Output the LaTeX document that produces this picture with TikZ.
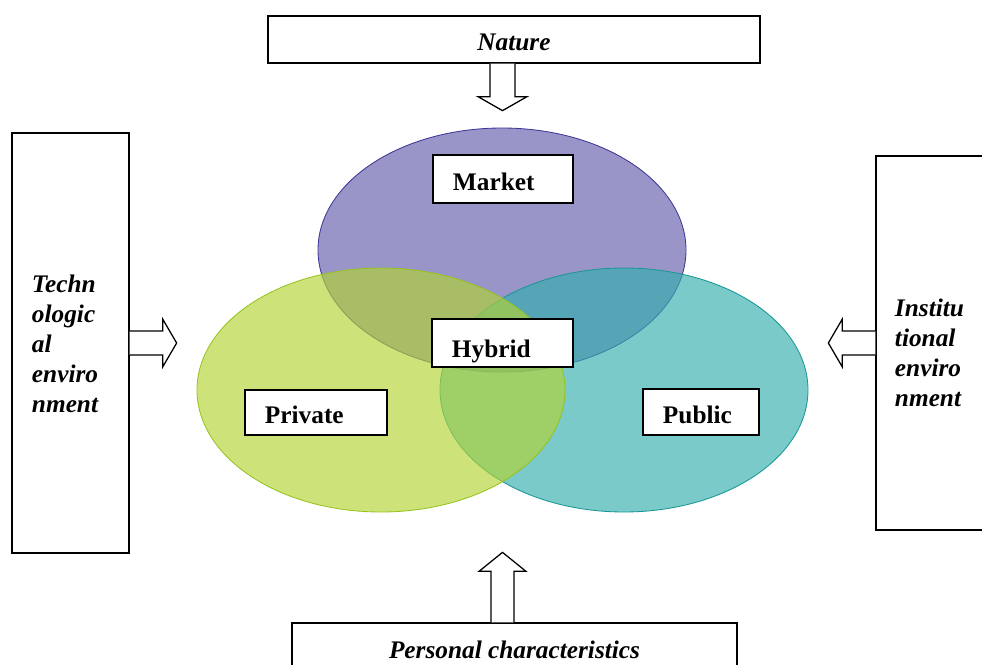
\documentclass[tikz,border=0pt]{standalone}
\usepackage{fontspec}
\setmainfont{Liberation Serif}
\usepackage{tikz}
\usetikzlibrary{calc}
\definecolor{mktfill}{RGB}{100,92,172}
\definecolor{mktline}{RGB}{60,55,150}
\definecolor{prvfill}{RGB}{178,212,51}
\definecolor{prvline}{RGB}{150,195,30}
\definecolor{pubfill}{RGB}{51,174,174}
\definecolor{publine}{RGB}{25,150,150}
\tikzset{
	outer/.style={draw,rectangle,line width=0.9pt,inner sep=0pt,font=\bfseries\itshape\fontsize{18}{21.3}\selectfont},
	side/.style={outer,align=left,minimum height=#1},
	lbl/.style={draw,rectangle,fill=white,line width=1.1pt,align=left,inner xsep=0.5cm,inner ysep=0pt,text height=16pt,text depth=0pt,font=\bfseries\fontsize{18}{21.3}\selectfont},
	blk/.style={draw,fill=white,line width=0.9pt,line join=miter},
	set/.style={line width=0.6pt,fill opacity=0.65}
}

\begin{document}
\begin{tikzpicture}[x=0.025cm,y=-0.025cm]
            \useasboundingbox (0,0) rectangle (982,665);
            % the three sets
            \draw[set,fill=mktfill,draw=mktline] (502,250) ellipse [x radius=184,y radius=122];
            \draw[set,fill=pubfill,draw=publine] (624,390) ellipse [x radius=184,y radius=122];
            \draw[set,fill=prvfill,draw=prvline] (381,390) ellipse [x radius=184,y radius=122];
            \node[lbl,minimum height=1.2cm,text width=2.5cm] (mkt) at (503,179) {Market};
            \node[lbl,minimum height=1.2cm,text width=2.525cm,text height=20pt] (hyb) at (502.5,343) {Hybrid};
            \node[lbl,minimum height=1.125cm,text width=2.55cm] (prv) at (316,412.5) {Private};
            \node[lbl,minimum height=1.15cm,text width=1.9cm] (pub) at (701,412) {Public};
            % surroundings
            \node[outer,minimum width=12.3cm,minimum height=1.175cm,text height=16pt,text depth=0pt] (nat) at (514,39.5) {Nature};
            \node[outer,minimum width=11.125cm,minimum height=1.25cm,text height=15pt,text depth=0pt] (pers) at (514.5,648) {Personal characteristics};
            \node[side=10.5cm,minimum width=2.925cm,inner xsep=0.5cm,text width=1.925cm] (tech) at (70.5,343) {\rule{0pt}{0.5cm}Techn\\ologic\\al\\enviro\\nment};
            \node[side=9.35cm,minimum width=3cm,inner xsep=0.475cm,text width=2.05cm] (inst) at (936,343) {\rule{0pt}{0.95cm}Institu\\tional\\enviro\\nment};
            \draw[blk] ($(nat.south)+(-24,0)$) -- ++(0,33) -- ++(-12,0) -- ++(24.5,14) -- ++(24.5,-14) -- ++(-12,0) -- ++(0,-33);
            \draw[blk] ($(pers.north)+(-23.5,0)$) -- ++(0,-51) -- ++(-12,0) -- ++(23.5,-19) -- ++(23.5,19) -- ++(-12,0) -- ++(0,51);
            \draw[blk] ($(tech.east)+(0,-12)$) -- ++(33,0) -- ++(0,-12) -- ++(14,24) -- ++(-14,24) -- ++(0,-12) -- ++(-33,0);
            \draw[blk] ($(inst.west)+(0,-12)$) -- ++(-33,0) -- ++(0,-12) -- ++(-14,24) -- ++(14,24) -- ++(0,-12) -- ++(33,0);
        \end{tikzpicture}
\end{document}
